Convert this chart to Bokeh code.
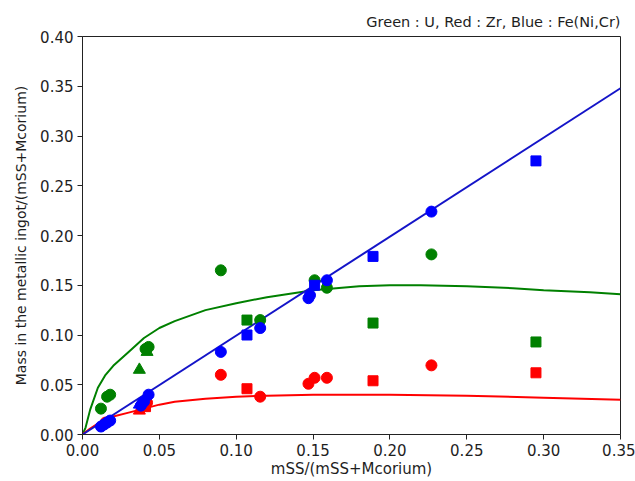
from bokeh.plotting import figure
from bokeh.embed import file_html
from bokeh.resources import INLINE
from bokeh.models import FixedTicker, NumeralTickFormatter, Title, Range1d

# ---- data ----
blue_circ_x = [0.012, 0.014, 0.016, 0.018, 0.038, 0.040, 0.043, 0.090, 0.1156, 0.147, 0.148, 0.159, 0.227]
blue_circ_y = [0.008, 0.010, 0.012, 0.014, 0.029, 0.033, 0.040, 0.083, 0.107, 0.137, 0.140, 0.155, 0.224]
blue_sq_x = [0.107, 0.151, 0.189, 0.295]
blue_sq_y = [0.100, 0.150, 0.179, 0.275]
blue_tri_x = [0.037]
blue_tri_y = [0.030]

green_circ_x = [0.012, 0.016, 0.018, 0.041, 0.043, 0.090, 0.1156, 0.151, 0.159, 0.227]
green_circ_y = [0.026, 0.038, 0.040, 0.086, 0.088, 0.165, 0.115, 0.155, 0.1475, 0.181]
green_sq_x = [0.107, 0.189, 0.295]
green_sq_y = [0.115, 0.112, 0.093]
green_tri_x = [0.037, 0.042]
green_tri_y = [0.065, 0.083]

red_circ_x = [0.015, 0.042, 0.090, 0.1156, 0.147, 0.151, 0.159, 0.227]
red_circ_y = [0.012, 0.032, 0.060, 0.038, 0.051, 0.057, 0.057, 0.0695]
red_sq_x = [0.041, 0.107, 0.189, 0.295]
red_sq_y = [0.028, 0.046, 0.054, 0.062]
red_tri_x = [0.037]
red_tri_y = [0.024]

blue_line_x = [0.0, 0.35]
blue_line_y = [0.0, 0.348]

green_line_x = [0, 0.002, 0.005, 0.01, 0.015, 0.02, 0.03, 0.04, 0.05, 0.06, 0.08, 0.10, 0.12, 0.15,
                0.18, 0.20, 0.22, 0.25, 0.28, 0.30, 0.33, 0.35]
green_line_y = [0, 0.007, 0.025, 0.047, 0.060, 0.069, 0.083, 0.097, 0.107, 0.114, 0.125, 0.132, 0.138,
                0.145, 0.149, 0.150, 0.150, 0.149, 0.147, 0.145, 0.143, 0.141]

red_line_x = [0, 0.005, 0.01, 0.02, 0.03, 0.04, 0.05, 0.06, 0.08, 0.10, 0.12, 0.15, 0.18, 0.20, 0.25, 0.30, 0.35]
red_line_y = [0, 0.006, 0.011, 0.018, 0.022, 0.026, 0.030, 0.033, 0.036, 0.038, 0.039, 0.040, 0.040,
              0.040, 0.039, 0.037, 0.035]

x_ticks = [0.00, 0.05, 0.10, 0.15, 0.20, 0.25, 0.30, 0.35]
y_ticks = [0.00, 0.05, 0.10, 0.15, 0.20, 0.25, 0.30, 0.35, 0.40]

title_text = "Green : U, Red : Zr, Blue : Fe(Ni,Cr)"
x_label = "mSS/(mSS+Mcorium)"
y_label = "Mass in the metallic ingot/(mSS+Mcorium)"

BLUE = "#0000ff"
GREEN = "#008000"
RED = "#ff0000"
FONT = "DejaVu Sans"
TXT = "#1e1e1e"

p = figure(width=635, height=481, output_backend="svg", toolbar_location=None,
           x_range=Range1d(0, 0.35), y_range=Range1d(0, 0.40),
           min_border_left=82, min_border_right=15, min_border_top=36, min_border_bottom=47)

p.title = Title(text=title_text, align="right", text_font=FONT, text_font_size="14.5px",
                text_font_style="normal", text_color=TXT, standoff=14, offset=0)

p.xgrid.visible = False
p.ygrid.visible = False
p.outline_line_color = "#222222"
p.outline_line_width = 1
p.background_fill_color = "white"
p.border_fill_color = "white"

for ax, ticks in ((p.xaxis, x_ticks), (p.yaxis, y_ticks)):
    ax.ticker = FixedTicker(ticks=ticks)
    ax.formatter = NumeralTickFormatter(format="0.00")
    ax.minor_tick_line_color = None
    ax.major_tick_in = 0
    ax.major_tick_out = 5
    ax.major_tick_line_color = "#222222"
    ax.major_label_text_font = FONT
    ax.major_label_text_font_size = "15px"
    ax.major_label_text_color = TXT
    ax.major_label_standoff = 4
    ax.axis_label_text_font = FONT
    ax.axis_label_text_font_style = "normal"
    ax.axis_label_text_color = TXT
    ax.axis_line_color = "#222222"

p.xaxis.axis_label = x_label
p.yaxis.axis_label = y_label
p.xaxis.axis_label_text_font_size = "15px"
p.yaxis.axis_label_text_font_size = "14px"
p.xaxis.axis_label_standoff = 1
p.yaxis.axis_label_standoff = 8

# lines
p.line(green_line_x, green_line_y, line_color=GREEN, line_width=2)
p.line(red_line_x, red_line_y, line_color=RED, line_width=2)
p.line(blue_line_x, blue_line_y, line_color="#1414c8", line_width=2)

S = 11
p.scatter(green_circ_x, green_circ_y, marker="circle", size=S, color=GREEN)
p.scatter(green_sq_x, green_sq_y, marker="square", size=S - 1, color=GREEN)
p.scatter(green_tri_x, green_tri_y, marker="triangle", size=S + 1, color=GREEN)

p.scatter(red_circ_x, red_circ_y, marker="circle", size=S, color=RED)
p.scatter(red_sq_x, red_sq_y, marker="square", size=S - 1, color=RED)
p.scatter(red_tri_x, red_tri_y, marker="triangle", size=S + 1, color=RED)

p.scatter(blue_circ_x, blue_circ_y, marker="circle", size=S, color=BLUE)
p.scatter(blue_sq_x, blue_sq_y, marker="square", size=S - 1, color=BLUE)
p.scatter(blue_tri_x, blue_tri_y, marker="triangle", size=S + 1, color=BLUE)

open("out.html", "w").write(file_html(p, INLINE))
